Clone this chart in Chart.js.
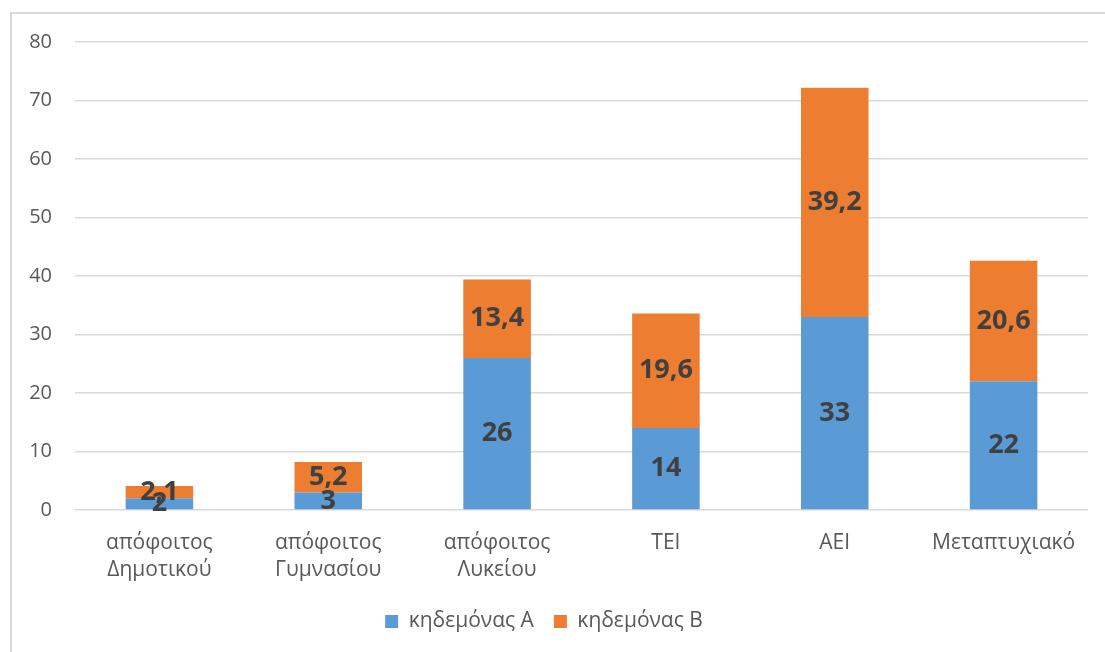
<!DOCTYPE html>
<html>
<head>
<meta charset="utf-8">
<script src="https://cdn.jsdelivr.net/npm/chart.js@4"></script>
<style>
	html, body { margin: 0; padding: 0; background: #fff; overflow: hidden; }
	#frame { position: absolute; left: 10px; top: 12px; width: 1200px; height: 700px; border: 2px solid #d9d9d9; box-sizing: border-box; }
	#wrap { position: absolute; left: 0; top: 0; width: 1105px; height: 652px; }
</style>
</head>
<body>
<div id="frame"></div>
<div id="wrap"><canvas id="chart"></canvas></div>
<script>
const categories = [
	["απόφοιτος", "Δημοτικού"],
	["απόφοιτος", "Γυμνασίου"],
	["απόφοιτος", "Λυκείου"],
	"ΤΕΙ",
	"ΑΕΙ",
	"Μεταπτυχιακό",
];
const seriesA = [2, 3, 26, 14, 33, 22];
const seriesB = [2.1, 5.2, 13.4, 19.6, 39.2, 20.6];
const seriesNames = ["κηδεμόνας Α", "κηδεμόνας Β"];
const yTicks = { min: 0, max: 80, step: 10 };

const FONT = "'Open Sans', 'Noto Sans', sans-serif";

// value labels in the middle of each bar segment
const barLabels = {
	id: "barLabels",
	afterDatasetsDraw(chart) {
		const ctx = chart.ctx;
		ctx.save();
		ctx.font = "bold 27px " + FONT;
		ctx.fillStyle = "#404040";
		ctx.textAlign = "center";
		ctx.textBaseline = "middle";
		chart.data.datasets.forEach((ds, i) => {
			const meta = chart.getDatasetMeta(i);
			meta.data.forEach((bar, j) => {
				const p = bar.getCenterPoint();
				ctx.fillText(String(ds.data[j]).replace(".", ","), p.x, p.y);
			});
		});
		ctx.restore();
	},
};

new Chart(document.getElementById("chart"), {
	type: "bar",
	data: {
		labels: categories,
		datasets: [
			{
				label: seriesNames[0],
				data: seriesA,
				backgroundColor: "#5B9BD5",
				categoryPercentage: 1,
				barPercentage: 0.4,
			},
			{
				label: seriesNames[1],
				data: seriesB,
				backgroundColor: "#ED7D31",
				categoryPercentage: 1,
				barPercentage: 0.4,
			},
		],
	},
	options: {
		responsive: true,
		maintainAspectRatio: false,
		animation: false,
		layout: {
			padding: { left: 0, right: 17, top: 42, bottom: 10 },
		},
		plugins: {
			legend: {
				position: "bottom",
				labels: {
					boxWidth: 13,
					boxHeight: 13,
					color: "#595959",
					font: { family: FONT, size: 21 },
					padding: 20,
				},
			},
			tooltip: { enabled: false },
		},
		scales: {
			x: {
				stacked: true,
				grid: { display: false, drawTicks: false },
				border: { display: false },
				ticks: {
					color: "#595959",
					font: { family: FONT, size: 21, lineHeight: 1.3 },
					padding: 19,
					maxRotation: 0,
					autoSkip: false,
				},
				afterFit: (scale) => { scale.height = 81; },
			},
			y: {
				stacked: true,
				min: yTicks.min,
				max: yTicks.max,
				grid: { color: "#d9d9d9", lineWidth: 1.5, drawTicks: false },
				border: { display: false },
				ticks: {
					stepSize: yTicks.step,
					color: "#595959",
					font: { family: FONT, size: 20 },
					padding: 23,
				},
				afterFit: (scale) => { scale.width = 75; },
			},
		},
	},
	plugins: [barLabels],
});
</script>
</body>
</html>
